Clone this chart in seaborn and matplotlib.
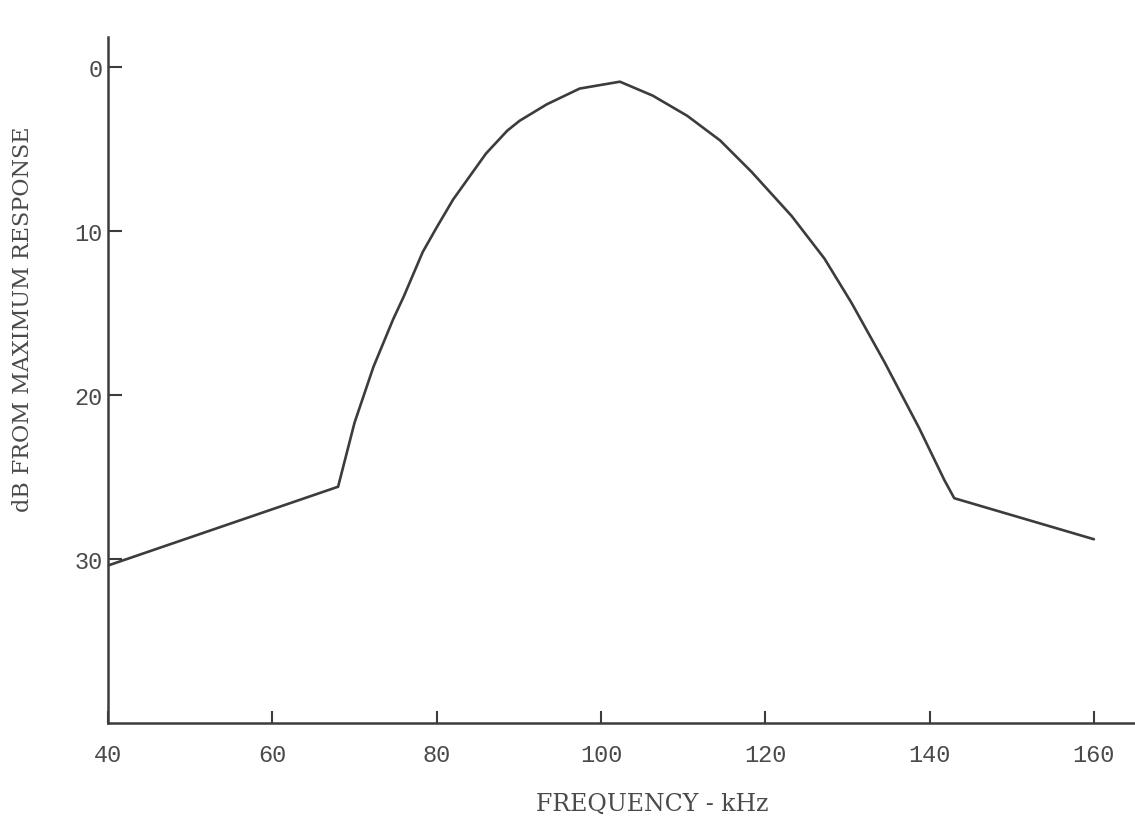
import pandas as pd
import matplotlib
matplotlib.use("Agg")
import matplotlib.pyplot as plt
import seaborn as sns

# --- Data ---
freq_khz = [40, 68, 70, 72.3, 74.7, 76, 78.3, 80, 82, 84, 86, 88.6, 90.1,
            93.4, 97.4, 102.3, 106.3, 110.5, 114.5, 118.3, 123.2, 127.2,
            130.5, 134.5, 138.7, 141.8, 143, 160]
db_down = [30.4, 25.6, 21.7, 18.3, 15.4, 14.0, 11.3, 9.8, 8.1, 6.7, 5.3, 3.9, 3.3,
           2.3, 1.34, 0.92, 1.77, 3.0, 4.5, 6.4, 9.1, 11.7,
           14.4, 18.0, 22.0, 25.2, 26.3, 28.8]

x_ticks = [40, 60, 80, 100, 120, 140, 160]
y_ticks = [0, 10, 20, 30]

INK = "#3c3c3c"
TEXT = "#4a4a4a"

df = pd.DataFrame({"freq": freq_khz, "db": db_down})

sns.set_theme(style="ticks")
plt.rcParams["font.family"] = ["DejaVu Serif", "DejaVu Sans"]

fig = plt.figure(figsize=(11.35, 8.2), dpi=100)
ax = fig.add_axes([0.0952, 0.117, 0.9048, 0.8366])

sns.lineplot(data=df, x="freq", y="db", ax=ax, color=INK, linewidth=1.9,
             sort=False, estimator=None)

ax.set_xlim(40, 165)
ax.set_ylim(40, -1.8)

ax.set_xticks(x_ticks)
ax.set_yticks(y_ticks)
ax.set_xticklabels([str(v) for v in x_ticks], family="Liberation Mono",
                   fontsize=17, color=TEXT)
ax.set_yticklabels([str(v) for v in y_ticks], family="Liberation Mono",
                   fontsize=17, color=TEXT)
ax.tick_params(axis="x", direction="in", length=9, width=1.5, color=INK, pad=14)
ax.tick_params(axis="y", direction="in", length=10, width=1.5, color=INK, pad=4)

for side in ["top", "right"]:
    ax.spines[side].set_visible(False)
for side in ["left", "bottom"]:
    ax.spines[side].set_color(INK)
    ax.spines[side].set_linewidth(1.8)

ax.set_xlabel("FREQUENCY - kHz", fontsize=17, color=TEXT)
ax.xaxis.set_label_coords(0.53, -0.1)
ax.set_ylabel("dB FROM MAXIMUM RESPONSE", fontsize=16, color=TEXT, va="center")
ax.yaxis.set_label_coords(-0.083, 0.59)

fig.savefig("out.png", dpi=100, facecolor="white")
